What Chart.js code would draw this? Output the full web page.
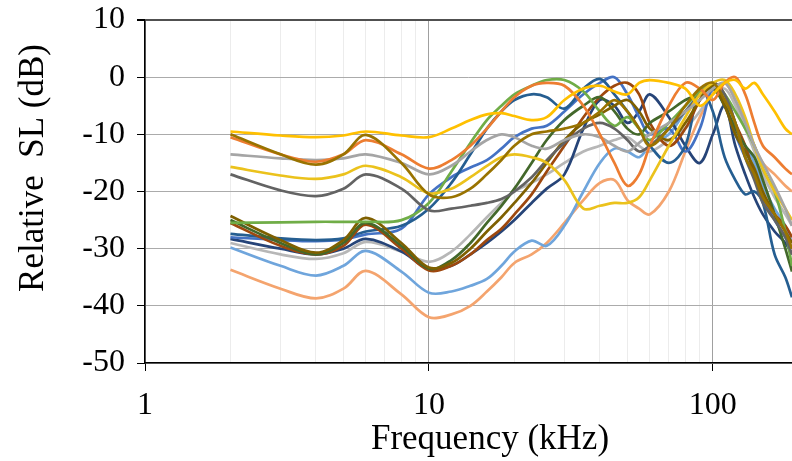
<!DOCTYPE html>
<html>
<head>
<meta charset="utf-8">
<script src="https://cdn.jsdelivr.net/npm/chart.js@4.4.1/dist/chart.umd.min.js"></script>
<style>
  html,body{margin:0;padding:0;background:#fff;}
  #wrap{width:792px;height:461px;}
</style>
</head>
<body>
<div id="wrap"><canvas id="chart" width="792" height="461"></canvas></div>
<script>
// frequency points (kHz), shared by every curve
const freqs=[2,3,4,5,6,8,10,12,14,16,18,20,23,26,30,35,40,45,50,55,60,70,80,90,100,110,120,130,140,150,165,180,190];

// relative SL (dB) per recording
const yellowA=[-9.5,-10.2,-10.5,-10.2,-9.5,-10.2,-10.5,-9,-7.5,-6.5,-6.3,-6.8,-7.5,-7,-4,-2,-1.5,-2.5,-3,-1,-0.5,-1,-2,-5,-3,-1,-0.5,-2,-1,-3,-6,-9,-10];
const goldDark=[-10,-13.5,-15.3,-13.5,-10.1,-15,-20.5,-21,-19.5,-17,-14.5,-12,-10,-9.5,-9,-8,-6,-4,-6,-9,-12,-9,-5,-2,-1,-4,-8,-14,-17,-21,-24,-27,-30];
const orange=[-10.5,-13.5,-14.8,-13.5,-11,-13.5,-16,-14.5,-12,-9,-6,-3.5,-1.5,-1,-1.5,-5,-10,-15,-19,-17,-12,-5,-1,-2,-4,-1,0,-3,-8,-12,-14,-16,-17];
const gray=[-13.5,-14.2,-14.5,-14.2,-13.5,-15,-17,-15.5,-13,-11,-10,-10.5,-12,-12.5,-11,-10,-10.5,-12,-13,-11.5,-10,-8,-6,-4,-2,-1,-4,-8,-12,-15,-19,-23,-26];
const yellowB=[-15.7,-17.2,-17.8,-17,-15.5,-17.5,-20.3,-19.5,-17.5,-15.5,-14,-13.5,-14,-15,-18,-23,-22.5,-22,-22,-21,-18,-12,-7,-3,-1,-0.5,-3,-7,-12,-16,-20,-23,-25];
const grayDark=[-17,-19.8,-20.8,-19.5,-17,-19.5,-23.3,-23,-22.5,-22,-21.3,-20,-17.5,-14.5,-11.5,-9,-8,-9,-11,-13,-12,-9,-6,-3,-1,-3,-8,-14,-18,-22,-25,-28,-31];
const green=[-25.5,-25.4,-25.3,-25.3,-25.3,-25,-22,-16.5,-11.5,-7.5,-5,-3,-1.5,-0.5,-0.5,-2.5,-6,-8.5,-7,-9,-11,-8,-5,-2.5,-1,-3,-6,-9,-12,-16,-20,-27,-33];
const olive=[-24.3,-28.5,-30.7,-28.5,-24.6,-29,-33.3,-32.5,-30,-27,-24.5,-22,-18.5,-15,-11,-8,-6.5,-5,-4,-6,-9,-11,-8,-4,-1.5,-5,-10,-13,-16,-20,-24,-27,-29];
const greenDark=[-25,-29,-31,-29,-25.5,-29.5,-33.5,-32,-29,-25.5,-22.5,-19.5,-15,-11,-7.5,-5,-3.5,-6,-9,-10,-8,-6,-4,-3,-2,-5,-9,-12,-14,-18,-24,-30,-34];
const brown=[-25.5,-29.5,-31,-29.5,-25.8,-30,-33.8,-33,-31,-28.5,-26.5,-24,-20.5,-16.5,-12,-7,-3.5,-1.5,-1,-3,-8,-12,-9,-4,-1,-3,-8,-12,-17,-21,-24,-26,-28];
const steelBlue=[-27.4,-28.2,-28.5,-28.2,-27,-26,-23,-18.5,-13.5,-9,-6,-4,-3,-3.5,-5.5,-2,-0.3,-3,-6,-9,-12,-15,-12,-2,-6,-14,-18,-20.5,-20,-22,-31,-35,-38.5];
const blue=[-28,-28.5,-28.7,-28.4,-27.5,-26.5,-20.5,-17.5,-15.8,-14.5,-12.5,-10.5,-9,-8.5,-6,-3,-1,0,-3,-7,-10,-9,-13,-9,-2,-5,-10,-14,-17,-21,-25,-28,-30];
const navy=[-28.3,-30,-31,-30,-28.3,-30.5,-33.5,-33,-31,-29,-27,-25,-22,-19.5,-17,-9,-4,-5,-8,-6,-3,-7,-12,-15,-10,-5,-12,-17,-21,-24,-27,-29,-31];
const silver=[-29,-31,-31.8,-30.8,-28.8,-30.5,-32.3,-30.5,-27.5,-24.5,-22,-20,-18.5,-17,-15,-13,-12,-11,-10.5,-12,-13,-11,-9,-6,-3,-2,-5,-9,-13,-17,-21,-24,-26];
const lightBlue=[-29.8,-33,-34.7,-33,-30.4,-34,-37.7,-37.5,-36.5,-35.3,-33,-30.5,-28.6,-29.5,-26,-20,-15,-12.5,-13,-14,-12,-10,-6,-3,-2,-5,-9,-12,-15,-19,-23,-26,-29];
const peach=[-33.7,-37,-38.7,-37,-33.9,-38,-42,-41.5,-40,-37.5,-35,-32.5,-31,-29,-25.5,-21.5,-18.5,-18,-21.5,-23,-24,-20,-13,-7,-3,-1,-4,-8,-12,-15,-17,-19,-20];

const series=[
  [yellowA,'#FFC000'],[goldDark,'#997300'],[orange,'#ED7D31'],[gray,'#A5A5A5'],
  [yellowB,'#EBC21C'],[grayDark,'#636363'],[green,'#70AD47'],[olive,'#7F6000'],
  [greenDark,'#43682B'],[brown,'#9E480E'],[steelBlue,'#255E91'],[blue,'#4472C4'],
  [navy,'#264478'],[silver,'#B7B7B7'],[lightBlue,'#6FA5DC'],[peach,'#F4A46E']
];

const xTicks=[1,2,3,4,5,6,7,8,9,10,20,30,40,50,60,70,80,90,100];
const majorX=[1,10,100];
const yTicks=[-50,-40,-30,-20,-10,0,10];

const serif="'Liberation Serif','Times New Roman',serif";

const datasets=series.map(([vals,col],i)=>({
  label:'S'+(i+1),
  data:vals.map((v,j)=>({x:freqs[j],y:v})),
  borderColor:col,
  backgroundColor:col,
  borderWidth:2.7,
  pointRadius:0,
  tension:0.35,
  fill:false
}));

// axis titles, placed by hand
const axisTitles={
  id:'axisTitles',
  afterDraw(chart){
    const ctx=chart.ctx;
    ctx.save();
    ctx.fillStyle='#000';
    ctx.font='35px '+serif;
    ctx.textAlign='center';
    ctx.textBaseline='middle';
    ctx.fillText('Frequency (kHz)',490,440);
    ctx.translate(34,168);
    ctx.rotate(-Math.PI/2);
    ctx.fillText('Relative  SL (dB)',0,0);
    ctx.restore();
  }
};

new Chart(document.getElementById('chart'),{
  type:'line',
  data:{datasets},
  plugins:[axisTitles],
  options:{
    responsive:false,
    animation:false,
    layout:{padding:{top:0,right:0,left:0,bottom:0}},
    plugins:{legend:{display:false},tooltip:{enabled:false}},
    scales:{
      x:{
        type:'logarithmic',min:1,max:190,
        afterBuildTicks(s){s.ticks=xTicks.map(v=>({value:v}));},
        afterFit(s){s.height=98;},
        ticks:{autoSkip:false,maxRotation:0,padding:15,color:'#000',
          font:{family:serif,size:32},
          callback:v=>majorX.includes(v)?String(v):''},
        grid:{
          color:c=>majorX.includes(c.tick&&c.tick.value)?'#A0A0A0':'#ECECEC',
          tickColor:c=>majorX.includes(c.tick&&c.tick.value)?'#000':'rgba(0,0,0,0)',
          tickLength:8,lineWidth:1
        },
        border:{color:'#000',width:1.5}
      },
      y:{
        min:-50,max:10,
        afterBuildTicks(s){s.ticks=yTicks.map(v=>({value:v}));},
        afterFit(s){s.width=145;},
        ticks:{padding:12,color:'#000',font:{family:serif,size:32,lineHeight:0.5}},
        grid:{
          color:c=>c.tick&&c.tick.value===10?'#505050':'#ABABAB',
          lineWidth:c=>c.tick&&c.tick.value===10?2:1,
          tickColor:'#000',tickLength:8
        },
        border:{color:'#000',width:1.5}
      }
    }
  }
});
</script>
</body>
</html>
